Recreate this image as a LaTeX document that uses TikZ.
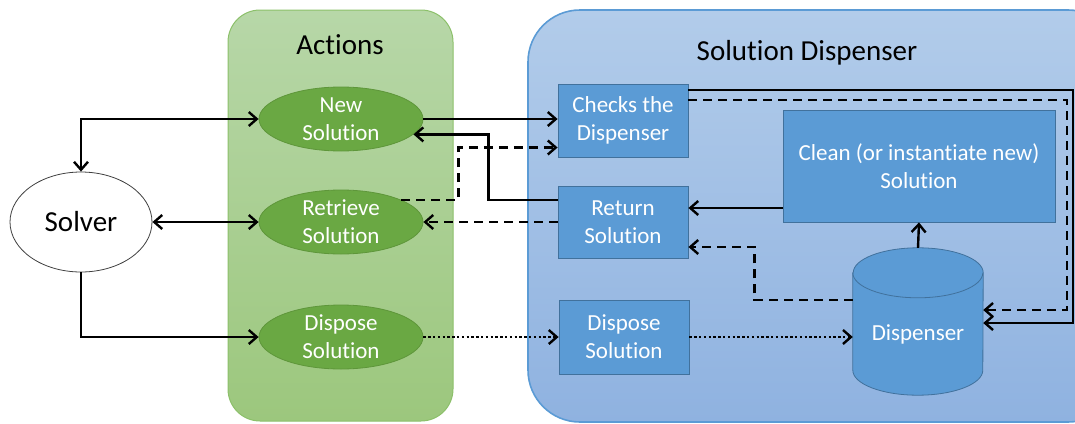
\documentclass[tikz,border=0pt]{standalone}
\usepackage{fontspec}
\setmainfont{Carlito}[Ligatures=NoCommon]
\usetikzlibrary{shapes.geometric,arrows.meta}

\definecolor{grouptopG}{RGB}{183,215,168}
\definecolor{groupbotG}{RGB}{156,199,125}
\definecolor{groupedgeG}{RGB}{140,192,106}
\definecolor{grouptopB}{RGB}{178,204,234}
\definecolor{groupbotB}{RGB}{143,178,224}
\definecolor{groupedgeB}{RGB}{91,155,213}
\definecolor{actfill}{RGB}{106,168,67}
\definecolor{actedge}{RGB}{94,150,58}
\definecolor{taskfill}{RGB}{91,155,213}
\definecolor{taskedge}{RGB}{65,113,156}

\tikzset{
  bigtext/.style={font=\fontsize{29}{34}\selectfont},
  smalltext/.style={font=\fontsize{23}{28}\selectfont},
  action/.style={ellipse, draw=actedge, line width=0.8pt, fill=actfill, text=white,
    minimum width=164pt, minimum height=64pt, inner sep=0pt, align=center, smalltext},
  task/.style={rectangle, draw=taskedge, line width=0.8pt, fill=taskfill, text=white,
    inner sep=0pt, align=center, smalltext},
  barb/.tip={Straight Barb[length=8pt,width=14pt]},
  flow/.style={line width=2.4pt, -{barb}},
  both/.style={line width=2.4pt, {barb}-{barb}},
  dflow/.style={flow, dash pattern=on 9pt off 6pt},
  pflow/.style={flow, dash pattern=on 2.4pt off 2.4pt},
}

\begin{document}
\begin{tikzpicture}[x=1pt, y=-1pt]
\useasboundingbox (0,0) rectangle (1075,423);
\clip (0,0) rectangle (1075,423);

% group panels
\path[draw=groupedgeG, line width=1pt, top color=grouptopG, bottom color=groupbotG,
  rounded corners=32pt] (228,10) rectangle (453,421);
\path[draw=groupedgeB, line width=1.6pt, top color=grouptopB, bottom color=groupbotB,
  rounded corners=52pt] (528,10) rectangle (1120,422);
\node[bigtext] (tact) at (340,45) {Actions};
\node[bigtext] (tdisp) at (807,53) {Solution Dispenser};

% caller
\node[ellipse, draw=black!75, line width=0.8pt, fill=white, minimum width=142pt,
  minimum height=100pt, inner sep=0pt, bigtext] (solver) at (81,222) {Solver};

% actions
\node[action] (ns) at (341,119) {New\\Solution};
\node[action] (rt) at (341,222) {Retrieve\\Solution};
\node[action] (dp) at (341,337) {Dispose\\Solution};

% dispenser internals
\node[task, minimum width=130pt, minimum height=73pt] (ck) at (623,120.5) {Checks the\\Dispenser};
\node[task, minimum width=130pt, minimum height=72pt] (rs) at (623,222) {Return\\Solution};
\node[task, minimum width=130pt, minimum height=74pt] (dq) at (624,337) {Dispose\\Solution};
\node[task, minimum width=272pt, minimum height=112pt] (cl) at (919,166)
  {Clean (or instantiate new)\\Solution};

% storage cylinder
\node[minimum width=130pt, minimum height=122pt, inner sep=0pt] (disp) at (918,334) {};
\filldraw[fill=taskfill, draw=taskedge, line width=0.8pt]
  (disp.north west) -- ([yshift=25pt]disp.south west)
  arc[start angle=180, end angle=360, x radius=65pt, y radius=25pt]
  -- (disp.north east)
  arc[start angle=0, end angle=180, x radius=65pt, y radius=25pt] -- cycle;
\draw[taskedge, line width=0.8pt] (disp.north west)
  arc[start angle=180, end angle=360, x radius=65pt, y radius=25pt];
\node[smalltext, text=white] (dlabel) at (disp.center) {Dispenser};

% solver <-> actions
\draw[both] (ns.west) -| (solver.north);
\draw[both] (solver.east) -- (rt.west);
\draw[flow] (solver.south) |- (dp.west);

% actions <-> dispenser
\draw[flow] (ns.east) -- (ns.east -| ck.west);
\draw[flow] ([yshift=22pt]rs.west) -| ([xshift=75pt]ns.-12) -- (ns.-12);
\draw[dflow] (rt.20) -| ([xshift=-99pt,yshift=-27pt]ck.west) -- ([yshift=-27pt]ck.west);
\draw[dflow] (rs.west) -- (rt.east);
\draw[pflow] (dp.east) -- (dq.west);

% inside the dispenser
\draw[flow] ([yshift=-42pt]cl.west) coordinate (clo) -- (clo -| rs.east);
\draw[dflow] ([yshift=34pt]disp.west) -| ([xshift=66pt,yshift=-25pt]rs.east) -- ([yshift=-25pt]rs.east);
\draw[flow] ([yshift=25pt]disp.north) -- (cl.south);
\draw[flow] ([yshift=30.5pt]ck.east) -| ([xshift=90pt,yshift=11pt]disp.east) -- ([yshift=11pt]disp.east);
\draw[dflow] ([yshift=20.5pt]ck.east) -| ([xshift=84pt,yshift=24pt]disp.east) -- ([yshift=24pt]disp.east);
\draw[pflow] (dq.east) -- (dq.east -| disp.west);
\end{tikzpicture}
\end{document}
